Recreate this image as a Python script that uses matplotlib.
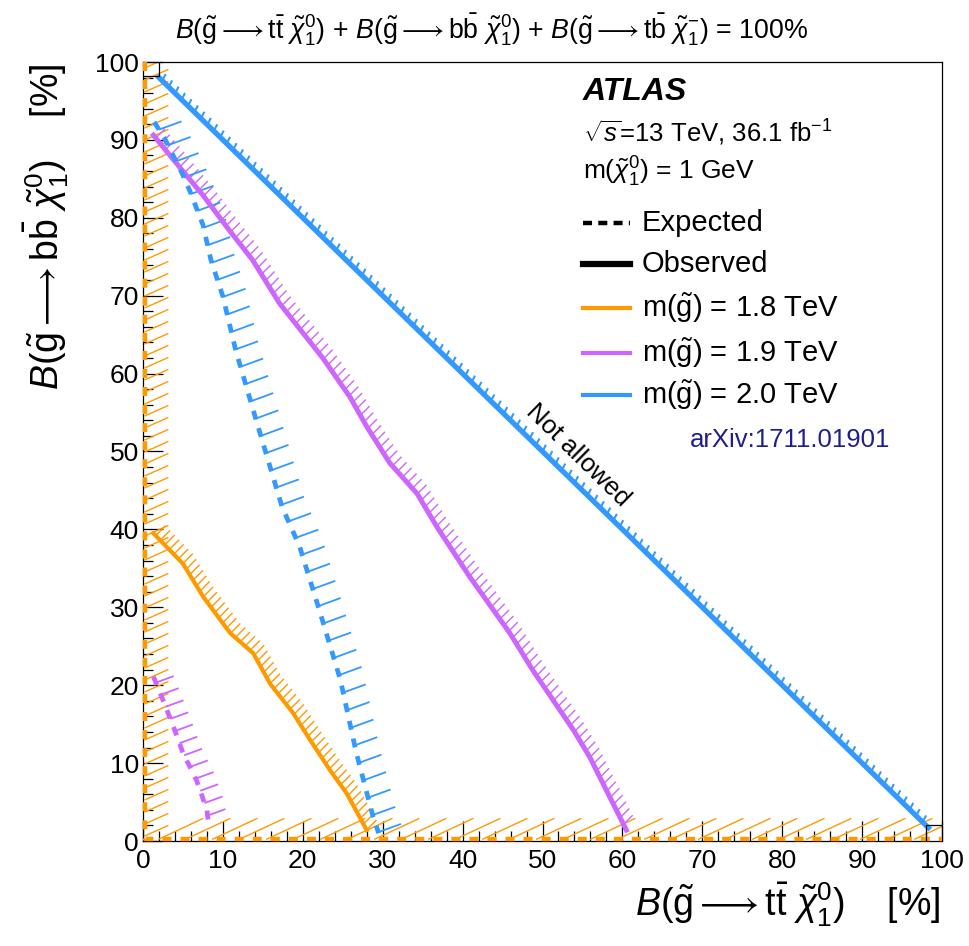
import numpy as np
import matplotlib
matplotlib.use("Agg")
import matplotlib.pyplot as plt
from matplotlib.collections import LineCollection
from matplotlib.ticker import MultipleLocator
from matplotlib.lines import Line2D

plt.rcParams['font.family'] = ['Liberation Sans', 'DejaVu Sans']
plt.rcParams['mathtext.fontset'] = 'custom'
plt.rcParams['mathtext.rm'] = 'Liberation Sans'
plt.rcParams['mathtext.it'] = 'Liberation Sans:italic'
plt.rcParams['mathtext.bf'] = 'Liberation Sans:bold'
plt.rcParams['lines.scale_dashes'] = False

# --- data (BR(tt) [%], BR(bb) [%]) ---
obs_18_x = [1.3, 5.0, 7.5, 10.9, 13.8, 15.9, 18.8, 20.9, 23.4, 25.5, 28.0]
obs_18_y = [39.5, 35.6, 31.4, 26.7, 24.1, 20.2, 16.4, 13.0, 9.1, 6.1, 1.4]
exp_18_x = [0.2, 0.2, 100.0]
exp_18_y = [100.0, 0.2, 0.2]

obs_19_x = [1.3, 4.5, 7.5, 10.8, 13.7, 17.1, 22.5, 25.9, 28.0, 30.9, 34.3, 36.8,
            40.9, 45.9, 48.8, 53.9, 55.9, 60.5]
obs_19_y = [90.6, 86.6, 82.9, 78.4, 74.6, 69.0, 62.0, 57.0, 53.2, 48.5, 44.6, 40.3,
            33.9, 26.7, 21.9, 14.2, 10.8, 1.4]
exp_19_x = [1.3, 2.5, 3.8, 5.0, 6.7, 8.0, 8.2]
exp_19_y = [21.1, 18.1, 14.7, 11.3, 7.8, 4.0, 2.2]

obs_20_x = [2.0, 50.0, 98.3]
obs_20_y = [98.0, 50.0, 1.7]
exp_20_x = [1.4, 2.7, 4.8, 5.8, 7.5, 8.5, 10.0, 11.6, 14.6, 17.4, 19.6, 22.2,
            24.7, 26.7, 28.8, 29.5]
exp_20_y = [92.3, 90.2, 85.9, 83.6, 79.1, 74.6, 69.9, 63.0, 52.5, 42.9, 37.8, 29.2,
            20.7, 11.3, 3.1, 1.0]

corner_tl_x = [0.0, 2.0, 2.0]
corner_tl_y = [98.2, 98.2, 100.0]
corner_br_x = [98.0, 98.0, 100.0]
corner_br_y = [0.0, 2.0, 2.0]

mass_labels = ['1.8', '1.9', '2.0']
c_orange = '#ff9900'
c_purple = '#cc66ff'
c_blue = '#3399ff'

W, H = 970, 946
fig = plt.figure(figsize=(W / 100, H / 100), dpi=100)
ax = fig.add_axes([143 / W, 1 - 841 / H, 799 / W, 779 / H])
ax.set_xlim(0, 100)
ax.set_ylim(0, 100)


def hatch(x, y, color, step, length, angle, lw=1.0):
    # short ticks along a polyline, spacing/length in pixels, angle in screen degrees
    pts = ax.transData.transform(np.column_stack([x, y]))
    seg = np.diff(pts, axis=0)
    d = np.concatenate([[0], np.cumsum(np.hypot(seg[:, 0], seg[:, 1]))])
    s = np.arange(step / 2, d[-1], step)
    px = np.interp(s, d, pts[:, 0])
    py = np.interp(s, d, pts[:, 1])
    a = np.radians(angle)
    inv = ax.transData.inverted()
    p0 = inv.transform(np.column_stack([px, py]))
    p1 = inv.transform(np.column_stack([px + length * np.cos(a), py + length * np.sin(a)]))
    segs = [[a0, a1] for a0, a1 in zip(p0, p1)]
    ax.add_collection(LineCollection(segs, colors=color, linewidths=lw, zorder=2))


# 1.8 TeV
hatch(exp_18_x[:2], exp_18_y[:2], c_orange, 12, 26, 24)
hatch(exp_18_x[1:], exp_18_y[1:], c_orange, 27, 50, 25)
ax.plot(exp_18_x, exp_18_y, color=c_orange, lw=3.2, dashes=(6.5, 6.5), zorder=3, clip_on=False)
hatch(obs_18_x, obs_18_y, c_orange, 6.5, 14, 45)
ax.plot(obs_18_x, obs_18_y, color=c_orange, lw=3.0, zorder=3)

# 1.9 TeV
hatch(exp_19_x, exp_19_y, c_purple, 13, 19, 20, lw=1.3)
ax.plot(exp_19_x, exp_19_y, color=c_purple, lw=3.4, dashes=(6.5, 6.5), zorder=3)
hatch(obs_19_x, obs_19_y, c_purple, 7.5, 13, 45)
ax.plot(obs_19_x, obs_19_y, color=c_purple, lw=3.6, zorder=3)

# 2.0 TeV
hatch(exp_20_x, exp_20_y, c_blue, 18, 24, 20, lw=1.3)
ax.plot(exp_20_x, exp_20_y, color=c_blue, lw=3.4, dashes=(6.5, 6.5), zorder=3)
hatch(obs_20_x, obs_20_y, c_blue, 9, 7.5, 62, lw=1.5)
ax.plot(obs_20_x, obs_20_y, color=c_blue, lw=3.8, zorder=3)

ax.plot(corner_tl_x, corner_tl_y, color='black', lw=0.9, zorder=4)
ax.plot(corner_br_x, corner_br_y, color='black', lw=0.9, zorder=4)

# axes style (ROOT-like)
ax.xaxis.set_major_locator(MultipleLocator(10))
ax.xaxis.set_minor_locator(MultipleLocator(2))
ax.yaxis.set_major_locator(MultipleLocator(10))
ax.yaxis.set_minor_locator(MultipleLocator(2))
ax.tick_params(which='both', direction='in', top=False, right=False, width=0.9,
               labelsize=19, zorder=5)
ax.tick_params(which='major', length=14.5)
ax.tick_params(which='minor', length=7)
ax.tick_params(axis='x', pad=6)
ax.tick_params(axis='y', pad=3)
for sp in ax.spines.values():
    sp.set_linewidth(0.9)

ax.text(54.4, 49.5, 'Not allowed', rotation=-44.5, rotation_mode='anchor',
        ha='center', va='center', fontsize=18.5)

# labels
fig.text(940 / W, 1 - 905 / H,
         r'$B(\tilde{\mathrm{g}} \longrightarrow \mathrm{t}\bar{\mathrm{t}}\ \tilde{\chi}^{0}_{1})$    [%]',
         ha='right', va='center', fontsize=27)
fig.text(46 / W, 1 - 64 / H,
         r'$B(\tilde{\mathrm{g}} \longrightarrow \mathrm{b}\bar{\mathrm{b}}\ \tilde{\chi}^{0}_{1})$    [%]',
         ha='center', va='top', rotation=90, fontsize=27)
fig.text(492 / W, 1 - 30 / H,
         r'$B(\tilde{\mathrm{g}} \longrightarrow \mathrm{t}\bar{\mathrm{t}}\ \tilde{\chi}^{0}_{1})$ + '
         r'$B(\tilde{\mathrm{g}} \longrightarrow \mathrm{b}\bar{\mathrm{b}}\ \tilde{\chi}^{0}_{1})$ + '
         r'$B(\tilde{\mathrm{g}} \longrightarrow \mathrm{t}\bar{\mathrm{b}}\ \tilde{\chi}^{-}_{1})$ = 100%',
         ha='center', va='center', fontsize=19.3)

# legend block
fig.text(583 / W, 1 - 92 / H, 'ATLAS', fontsize=23, fontweight='bold', style='italic',
         ha='left', va='center')
fig.text(583 / W, 1 - 133 / H, r'$\sqrt{s}$=13 TeV, 36.1 fb$^{-1}$', fontsize=18.5,
         ha='left', va='center')
fig.text(583 / W, 1 - 172 / H, r'm($\tilde{\chi}^{0}_{1}$) = 1 GeV', fontsize=19,
         ha='left', va='center')

entries = [('Expected', 'black', 3.2, (6.5, 4.5)),
           ('Observed', 'black', 4.5, None)]
entries += [(r'm($\tilde{\mathrm{g}}$) = %s TeV' % m, c, 3.0, None)
            for m, c in zip(mass_labels, [c_orange, c_purple, c_blue])]
ys = [223, 264, 308, 353, 395]
for (lab, c, lw, dash), yp in zip(entries, ys):
    yf = 1 - yp / H
    ln = Line2D([583 / W, 630 / W], [yf, yf], transform=fig.transFigure, color=c, lw=lw)
    if dash:
        ln.set_dashes(dash)
    fig.add_artist(ln)
    fig.text(642 / W, yf, lab, fontsize=21, ha='left', va='center')

fig.text(690 / W, 1 - 440 / H, 'arXiv:1711.01901', fontsize=18.5, color='#1f1f8c',
         ha='left', va='center')

fig.savefig('out.png', dpi=100)
